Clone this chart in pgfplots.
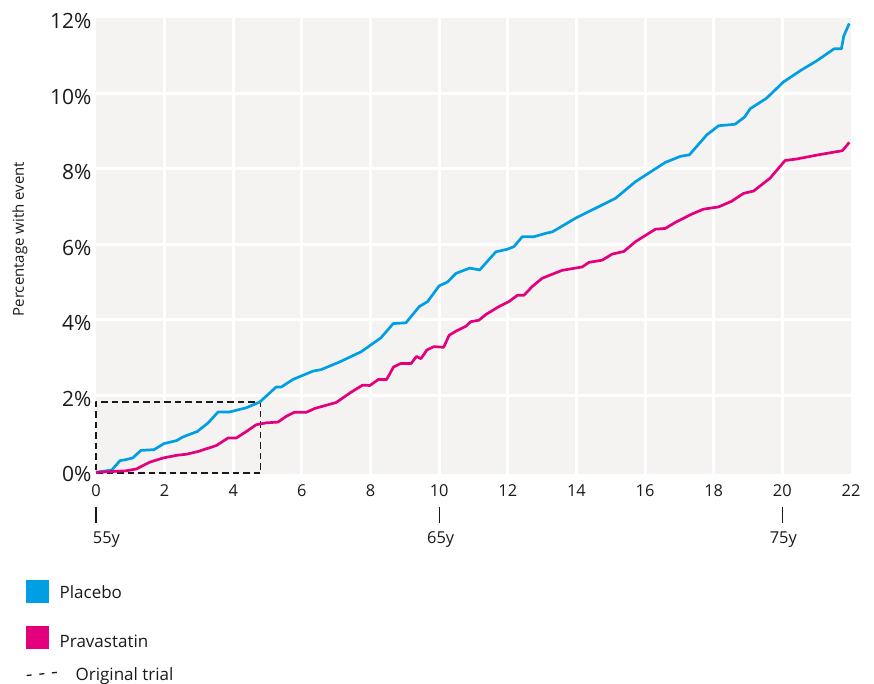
\documentclass[border=0pt]{standalone}
\usepackage{pgfplots}
\pgfplotsset{compat=1.18}
\usepackage{fontspec}
\setmainfont{Open Sans}
\definecolor{pbo}{HTML}{009FE3}
\definecolor{pra}{HTML}{E4007C}
\definecolor{bg}{HTML}{F4F3F2}
\definecolor{txt}{HTML}{1A1A1A}

\begin{document}
\begin{tikzpicture}
\useasboundingbox (-96pt,-210pt) rectangle (778pt,474pt);
\begin{axis}[
  scale only axis, width=755pt, height=456.2pt,
  xmin=0, xmax=22, ymin=-0.085, ymax=12,
  axis line style={draw=none},
  axis background/.style={fill=bg},
  xtick={2,4,...,20}, ytick={2,4,...,10},
  extra x ticks={0,22}, extra y ticks={0,12},
  extra tick style={grid=none},
  major tick length=0pt,
  grid=major, major grid style={white, line width=3pt},
  clip=false,
  /pgf/number format/assume math mode=true,
  yticklabel={\pgfmathprintnumber{\tick}\%},
  yticklabel style={font=\fontsize{21}{25}\selectfont, text=txt, yshift=-3.5pt, xshift=-1pt},
  xticklabel style={font=\fontsize{16.4}{20}\selectfont, text=txt, yshift=-7pt},
  ylabel={Percentage with event},
  ylabel style={font=\fontsize{15}{18}\selectfont, text=txt, at={(axis description cs:-0.1007,0.515)}, anchor=center},
  line join=round,
]
% original trial box
\addplot[txt, line width=1.2pt, dash pattern=on 6.5pt off 4pt] coordinates {(0,-0.06) (4.8,-0.06) (4.8,1.82) (0,1.82) (0,-0.06)};

\addplot[pbo, line width=2.7pt] coordinates {
(0,-0.04) (0.46,0.02) (0.70,0.27) (0.84,0.29) (1.07,0.34) (1.31,0.54) (1.69,0.56) (1.98,0.72)
(2.35,0.80) (2.54,0.90) (2.95,1.04) (3.27,1.27) (3.56,1.56) (3.90,1.56) (4.38,1.67) (4.77,1.82)
(5.25,2.22) (5.40,2.22) (5.74,2.42) (6.32,2.64) (6.56,2.68) (7.09,2.88) (7.72,3.15) (8.30,3.52)
(8.66,3.90) (9.03,3.92) (9.42,4.35) (9.66,4.48) (10.0,4.90) (10.24,5.00) (10.49,5.23) (10.89,5.37)
(11.18,5.32) (11.65,5.80) (11.99,5.87) (12.18,5.94) (12.42,6.20) (12.76,6.20) (13.10,6.29) (13.3,6.33)
(13.97,6.69) (15.14,7.22) (15.72,7.66) (16.59,8.17) (17.03,8.33) (17.29,8.37) (17.80,8.90) (18.14,9.14)
(18.62,9.18) (18.90,9.37) (19.06,9.59) (19.54,9.87) (20.03,10.30) (20.56,10.62) (21.00,10.86)
(21.51,11.18) (21.72,11.18) (21.79,11.52) (21.95,11.85)};

\addplot[pra, line width=2.7pt] coordinates {
(0,-0.04) (0.89,0.0) (1.18,0.05) (1.57,0.23) (1.96,0.34) (2.35,0.41) (2.64,0.44) (2.97,0.51)
(3.51,0.67) (3.85,0.87) (4.09,0.87) (4.38,1.04) (4.67,1.22) (4.96,1.27) (5.30,1.29) (5.54,1.44)
(5.78,1.55) (6.13,1.55) (6.37,1.65) (7.0,1.81) (7.43,2.08) (7.77,2.27) (7.98,2.26) (8.23,2.42)
(8.47,2.42) (8.67,2.75) (8.87,2.84) (9.18,2.84) (9.34,3.03) (9.47,2.97) (9.64,3.20) (9.85,3.29)
(10.13,3.27) (10.29,3.59) (10.49,3.70) (10.78,3.83) (10.92,3.95) (11.16,3.99) (11.36,4.14) (11.74,4.35)
(12.03,4.48) (12.28,4.65) (12.47,4.65) (12.71,4.88) (13.0,5.10) (13.58,5.31) (14.17,5.40) (14.36,5.52)
(14.75,5.58) (15.04,5.74) (15.38,5.81) (15.72,6.07) (16.30,6.40) (16.59,6.42) (16.88,6.58) (17.36,6.80)
(17.70,6.93) (18.14,6.99) (18.52,7.14) (18.87,7.35) (19.16,7.41) (19.64,7.75) (20.08,8.22) (20.42,8.26)
(21.05,8.37) (21.75,8.48) (21.95,8.70)};

% age axis
\draw[txt, line width=1.1pt] ([yshift=-32.7pt]axis cs:0,-0.085) -- ([yshift=-49.3pt]axis cs:0,-0.085);
\draw[txt, line width=1.1pt] ([yshift=-32.7pt]axis cs:10,-0.085) -- ([yshift=-49.3pt]axis cs:10,-0.085);
\draw[txt, line width=1.1pt] ([yshift=-32.7pt]axis cs:20,-0.085) -- ([yshift=-49.3pt]axis cs:20,-0.085);
\node[anchor=base west, inner sep=0, text=txt, font=\fontsize{16.4}{20}\selectfont] at ([xshift=-3.3pt,yshift=-69.3pt]axis cs:0,-0.085) {55y};
\node[anchor=base, inner sep=0, text=txt, font=\fontsize{16.4}{20}\selectfont] at ([xshift=1.5pt,yshift=-69.3pt]axis cs:10,-0.085) {65y};
\node[anchor=base, inner sep=0, text=txt, font=\fontsize{16.4}{20}\selectfont] at ([xshift=1pt,yshift=-69.3pt]axis cs:20,-0.085) {75y};

% legend
\fill[pbo] ([xshift=-70pt,yshift=-106pt]axis cs:0,-0.085) rectangle ++(23pt,-23pt);
\node[anchor=base west, inner sep=0, text=txt, font=\fontsize{17}{20}\selectfont] at ([xshift=-36.5pt,yshift=-124.3pt]axis cs:0,-0.085) {Placebo};
\fill[pra] ([xshift=-70pt,yshift=-152pt]axis cs:0,-0.085) rectangle ++(23pt,-23pt);
\node[anchor=base west, inner sep=0, text=txt, font=\fontsize{17}{20}\selectfont] at ([xshift=-36.5pt,yshift=-173.3pt]axis cs:0,-0.085) {Pravastatin};
\draw[txt, line width=1.3pt, dash pattern=on 5pt off 7.7pt] ([xshift=-69.3pt,yshift=-201.5pt]axis cs:0,-0.085) -- ++(31pt,0);
\node[anchor=base west, inner sep=0, text=txt, font=\fontsize{17}{20}\selectfont] at ([xshift=-20.5pt,yshift=-206pt]axis cs:0,-0.085) {Original trial};
\end{axis}
\end{tikzpicture}
\end{document}
